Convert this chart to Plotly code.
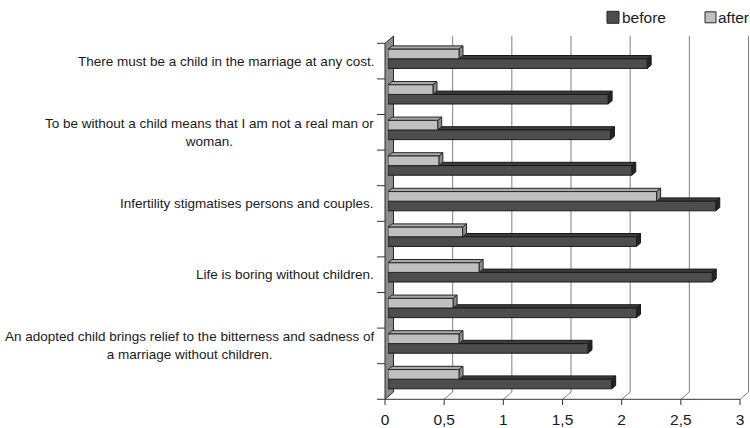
import plotly.graph_objects as go

# ---------------- data ----------------
categories = [
    "There must be a child in the marriage at any cost.",
    "Item 2",
    "To be without a child means that I am not a real man or woman.",
    "Item 4",
    "Infertility stigmatises persons and couples.",
    "Item 6",
    "Life is boring without children.",
    "Item 8",
    "An adopted child brings relief to the bitterness and sadness of a marriage without children.",
    "Item 10",
]
category_labels = [
    "There must be a child in the marriage at any cost.",
    "",
    "To be without a child means that I am not a real man or<br>woman.",
    "",
    "Infertility stigmatises persons and couples.",
    "",
    "Life is boring without children.",
    "",
    "An adopted child brings relief to the bitterness and sadness of<br>a marriage without children.",
    "",
]
before = [2.19, 1.86, 1.88, 2.06, 2.77, 2.10, 2.74, 2.10, 1.69, 1.89]
after = [0.60, 0.38, 0.42, 0.43, 2.27, 0.63, 0.77, 0.55, 0.60, 0.60]
x_ticks = [0, 0.5, 1, 1.5, 2, 2.5, 3]
series_names = ["before", "after"]

# ---------------- layout constants ----------------
W, H = 750, 428
ML, MR, MT, MB = 388, 7, 41, 31
PW, PH = W - ML - MR, H - MT - MB
XR = [0, 3]
PX_PER_UNIT = PW / (XR[1] - XR[0])
N = len(categories)
BAND = PH / N
BARGAP = 0.46
BAR_DEPTH = (4.0, 3.3)      # extrusion of each bar (px right, px up)
FRONT = (-3.0, -2.3)        # front plane offset from bar plane (px)
BACK = (5.5, 5.0)           # back wall offset from bar plane (px)
FONT = "Liberation Sans, Arial, sans-serif"
TXT = "#1a1a1a"

FACE = {
    "before": {"front": "#4d4d4d", "top": "#3c3c3c", "side": "#242424", "line": "#1a1a1a"},
    "after": {"front": "#c0c0c0", "top": "#a9a9a9", "side": "#8a8a8a", "line": "#262626"},
}
series_values = {"before": before, "after": after}

# legend geometry in pixels: (swatch left, swatch size, text left)
LEGEND = {"before": (607, 12, 621.7), "after": (705, 11, 717.5)}
LEGEND_Y = 17.3


def xp(v):
    return (v - XR[0]) / (XR[1] - XR[0])


def px_x(px):
    return (px - ML) / PW


def px_y(py):
    return (H - MB - py) / PH


fig = go.Figure()
ycat = categories[::-1]
for name in series_names:
    fig.add_trace(go.Bar(
        y=ycat, x=series_values[name][::-1], orientation="h", name=name,
        marker=dict(color=FACE[name]["front"], line=dict(color=FACE[name]["line"], width=1)),
        showlegend=False,
    ))

shapes = []
# back-wall grid lines (with floor diagonals)
for t in x_ticks[1:]:
    shapes.append(dict(
        type="path", xref="paper", yref="paper", xsizemode="pixel", ysizemode="pixel",
        xanchor=xp(t), yanchor=0, layer="below",
        path=f"M{BACK[0]},{PH + BACK[1]} L{BACK[0]},{BACK[1]} L{FRONT[0]},{FRONT[1]}",
        line=dict(color="#808080", width=1),
    ))
# left side wall
shapes.append(dict(
    type="path", xref="paper", yref="paper", xsizemode="pixel", ysizemode="pixel",
    xanchor=0, yanchor=0, layer="below",
    path=(f"M{FRONT[0]},{FRONT[1]} L{FRONT[0]},{PH + FRONT[1]} "
          f"L{BACK[0]},{PH + BACK[1]} L{BACK[0]},{BACK[1]} Z"),
    fillcolor="#8c8c8c", line=dict(color="#2a2a2a", width=1),
))
# 3-D faces of the bars
w = (1 - BARGAP) * BAND
dxd = BAR_DEPTH[0] / PX_PER_UNIT
dz = BAR_DEPTH[1]
for i in range(N):
    k = N - 1 - i
    for j, name in enumerate(series_names):
        v = series_values[name][i]
        y0 = -w / 2 + j * w / 2
        y1 = y0 + w / 2
        common = dict(type="path", xref="x", yref="y", ysizemode="pixel", yanchor=k,
                      layer="below", line=dict(color=FACE[name]["line"], width=1))
        shapes.append(dict(common, fillcolor=FACE[name]["top"],
                           path=f"M0,{y1} L{dxd},{y1 + dz} L{v + dxd},{y1 + dz} L{v},{y1} Z"))
        shapes.append(dict(common, fillcolor=FACE[name]["side"],
                           path=f"M{v},{y0} L{v},{y1} L{v + dxd},{y1 + dz} L{v + dxd},{y0 + dz} Z"))
# front floor edge and x ticks
shapes.append(dict(
    type="line", xref="paper", yref="paper", xsizemode="pixel", ysizemode="pixel",
    xanchor=0, yanchor=0, x0=FRONT[0], x1=PW + FRONT[0], y0=FRONT[1], y1=FRONT[1],
    line=dict(color="#333333", width=1),
))
for t in x_ticks:
    shapes.append(dict(
        type="line", xref="paper", yref="paper", xsizemode="pixel", ysizemode="pixel",
        xanchor=xp(t), yanchor=0, x0=FRONT[0], x1=FRONT[0], y0=FRONT[1], y1=FRONT[1] - 5.7,
        line=dict(color="#333333", width=1),
    ))
# y ticks on the front edge of the wall
for k in range(N + 1):
    shapes.append(dict(
        type="line", xref="paper", yref="paper", xsizemode="pixel", ysizemode="pixel",
        xanchor=0, yanchor=k / N, x0=FRONT[0] - 8, x1=FRONT[0], y0=FRONT[1], y1=FRONT[1],
        line=dict(color="#333333", width=1),
    ))
# custom legend swatches
for name in series_names:
    x0, size, _ = LEGEND[name]
    shapes.append(dict(
        type="rect", xref="paper", yref="paper",
        x0=px_x(x0), x1=px_x(x0 + size),
        y0=px_y(LEGEND_Y + size / 2), y1=px_y(LEGEND_Y - size / 2),
        fillcolor=FACE[name]["front"], line=dict(color="#262626", width=1),
    ))

annotations = []
for cat, lab in zip(categories, category_labels):
    if lab:
        annotations.append(dict(
            xref="paper", x=0, xanchor="right", xshift=-12, yref="y", y=cat, yshift=-2.3,
            text=lab, align="center", showarrow=False,
            font=dict(family=FONT, size=13.5, color=TXT),
        ))
for name in series_names:
    annotations.append(dict(
        xref="paper", x=px_x(LEGEND[name][2] - 2), xanchor="left",
        yref="paper", y=px_y(LEGEND_Y), yanchor="middle",
        text=name, showarrow=False, font=dict(family=FONT, size=15.5, color=TXT),
    ))

fig.update_layout(
    width=W, height=H, margin=dict(l=ML, r=MR, t=MT, b=MB, autoexpand=False),
    paper_bgcolor="white", plot_bgcolor="white",
    barmode="group", bargap=BARGAP, bargroupgap=0,
    separators=", ",
    font=dict(family=FONT, color=TXT),
    shapes=shapes, annotations=annotations, showlegend=False,
    xaxis=dict(range=XR, tickvals=x_ticks, showgrid=False, zeroline=False, showline=False,
               ticks="", ticklabelshift=int(FRONT[0]), ticklabelstandoff=11,
               tickfont=dict(family=FONT, size=15.5, color=TXT), fixedrange=True),
    yaxis=dict(type="category", categoryorder="trace", range=[-0.5, N - 0.5],
               showticklabels=False, showgrid=False, zeroline=False, showline=False,
               ticks="", fixedrange=True),
)

fig.write_html("out.html")
